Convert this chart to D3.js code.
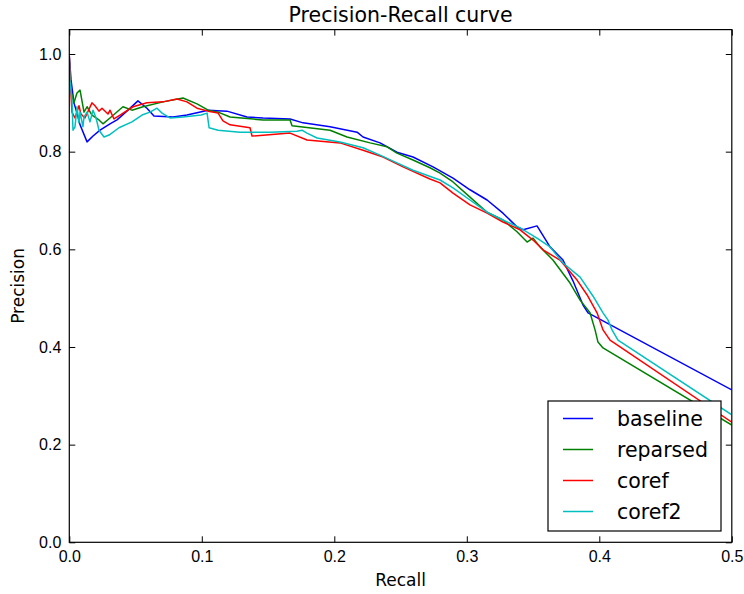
<!DOCTYPE html>
<html lang="en">
<head>
<meta charset="utf-8">
<title>Precision-Recall curve</title>
<script src="https://cdnjs.cloudflare.com/ajax/libs/d3/7.8.5/d3.min.js"></script>
<style>
	body { margin: 0; background: #fff; }
	svg { font-family: "DejaVu Sans", sans-serif; }
	.tick line { stroke: #000; }
	.tick text { fill: #000; font-size: 16px; }
	.curve { fill: none; stroke-width: 1.5; stroke-linejoin: round; }
</style>
</head>
<body>
<div id="viz"></div>
<script>

// [recall, precision] pairs
var baseline = [[0,0.996],[0.0013,0.947],[0.0035,0.900],[0.0058,0.879],[0.0081,0.855],[0.0134,0.820],[0.0179,0.832],[0.0232,0.844],[0.0307,0.857],[0.036,0.865],[0.0443,0.885],[0.0518,0.904],[0.0586,0.889],[0.0639,0.873],[0.0783,0.871],[0.0888,0.875],[0.1048,0.885],[0.119,0.883],[0.1341,0.871],[0.1462,0.869],[0.1666,0.867],[0.1764,0.859],[0.1968,0.851],[0.2172,0.840],[0.2217,0.830],[0.2345,0.818],[0.2473,0.799],[0.2594,0.789],[0.2745,0.769],[0.2896,0.746],[0.3024,0.722],[0.3153,0.701],[0.3273,0.674],[0.3379,0.646],[0.3425,0.640],[0.353,0.648],[0.3628,0.605],[0.3726,0.578],[0.3802,0.535],[0.3877,0.486],[0.3915,0.470],[0.5,0.312]];

var reparsed = [[0,0.992],[0.0005,0.932],[0.002,0.916],[0.0035,0.900],[0.0058,0.920],[0.0081,0.926],[0.0111,0.881],[0.0134,0.892],[0.0171,0.875],[0.0224,0.865],[0.0254,0.857],[0.0307,0.869],[0.0405,0.892],[0.0473,0.885],[0.0556,0.892],[0.0707,0.902],[0.0858,0.910],[0.0964,0.898],[0.1048,0.885],[0.1123,0.881],[0.1213,0.871],[0.1462,0.865],[0.1666,0.865],[0.1681,0.853],[0.1968,0.844],[0.2096,0.830],[0.227,0.818],[0.2398,0.810],[0.2473,0.797],[0.2594,0.783],[0.2722,0.767],[0.2798,0.756],[0.2896,0.738],[0.3024,0.707],[0.3153,0.676],[0.3273,0.660],[0.3379,0.636],[0.3455,0.615],[0.35,0.623],[0.3553,0.605],[0.365,0.578],[0.3779,0.531],[0.3855,0.496],[0.393,0.470],[0.3968,0.435],[0.399,0.410],[0.4028,0.398],[0.5,0.240]];

var coref = [[0,0.996],[0.0013,0.916],[0.002,0.881],[0.0043,0.869],[0.0073,0.894],[0.0088,0.877],[0.0118,0.869],[0.0171,0.900],[0.0194,0.894],[0.0224,0.883],[0.0247,0.889],[0.0292,0.877],[0.0307,0.885],[0.0337,0.867],[0.0383,0.875],[0.0481,0.892],[0.0586,0.900],[0.0707,0.902],[0.0813,0.908],[0.0888,0.902],[0.0964,0.889],[0.1048,0.883],[0.1123,0.879],[0.116,0.863],[0.1213,0.855],[0.1364,0.849],[0.1379,0.832],[0.1666,0.838],[0.1794,0.824],[0.2043,0.818],[0.2217,0.803],[0.2368,0.789],[0.2519,0.769],[0.2722,0.744],[0.2798,0.736],[0.2896,0.715],[0.3024,0.691],[0.3153,0.674],[0.3273,0.656],[0.3402,0.640],[0.35,0.619],[0.3575,0.599],[0.3703,0.578],[0.3832,0.537],[0.3907,0.507],[0.3983,0.470],[0.4028,0.435],[0.4081,0.414],[0.5,0.246]];

var coref2 = [[0,0.992],[0.0005,0.947],[0.002,0.906],[0.0028,0.844],[0.0043,0.851],[0.0058,0.892],[0.0073,0.859],[0.0081,0.881],[0.0103,0.851],[0.0111,0.871],[0.0134,0.881],[0.0156,0.861],[0.0179,0.885],[0.0202,0.869],[0.0224,0.844],[0.0262,0.830],[0.03,0.834],[0.0375,0.849],[0.0473,0.861],[0.0549,0.875],[0.0609,0.881],[0.0662,0.889],[0.07,0.879],[0.076,0.869],[0.0858,0.871],[0.0995,0.875],[0.104,0.879],[0.1055,0.849],[0.1123,0.844],[0.1288,0.840],[0.1515,0.840],[0.1718,0.842],[0.1756,0.844],[0.1794,0.838],[0.187,0.828],[0.2043,0.820],[0.2217,0.808],[0.2345,0.793],[0.2473,0.777],[0.2594,0.762],[0.2798,0.742],[0.2896,0.726],[0.3024,0.701],[0.3153,0.676],[0.3273,0.660],[0.3402,0.644],[0.353,0.623],[0.3628,0.605],[0.3726,0.572],[0.3855,0.543],[0.3953,0.504],[0.4028,0.470],[0.4066,0.455],[0.4096,0.435],[0.4141,0.414],[0.5,0.261]];

var seriesNames = ["baseline", "reparsed", "coref", "coref2"];
var seriesColors = ["#0000ff", "#008000", "#ff0000", "#00bfbf"];
var xTicks = [0, 0.1, 0.2, 0.3, 0.4, 0.5];
var yTicks = [0, 0.2, 0.4, 0.6, 0.8, 1.0];

(function(d3) {

	var w = 744,
		h = 594;
	var margin = {top: 29.6, right: 12.2, bottom: 51.7, left: 69.3};
	var width = w - margin.left - margin.right,
		height = h - margin.top - margin.bottom;

	var xScale = d3.scaleLinear().domain([0, 0.5]).range([0, width]);
	var yScale = d3.scaleLinear().domain([0, 1.05]).range([height, 0]);

	var svg = d3.select("#viz")
		.append("svg")
		.attr("width", w)
		.attr("height", h);

	var g = svg.append("g")
		.attr("transform", "translate(" + margin.left + "," + margin.top + ")");

	svg.append("defs").append("clipPath")
		.attr("id", "plotClip")
		.append("rect")
		.attr("width", width)
		.attr("height", height);

	var fmt = d3.format(".1f");

	// ticks point inwards on all four sides, labels only bottom and left
	g.append("g")
		.attr("transform", "translate(0," + height + ")")
		.call(d3.axisBottom(xScale).tickValues(xTicks).tickFormat(fmt).tickSize(-6).tickPadding(8))
		.call(a => a.select(".domain").remove());
	g.append("g")
		.call(d3.axisTop(xScale).tickValues(xTicks).tickFormat("").tickSize(-6))
		.call(a => a.select(".domain").remove());
	g.append("g")
		.call(d3.axisLeft(yScale).tickValues(yTicks).tickFormat(fmt).tickSize(-6).tickPadding(8))
		.call(a => a.select(".domain").remove());
	g.append("g")
		.attr("transform", "translate(" + width + ",0)")
		.call(d3.axisRight(yScale).tickValues(yTicks).tickFormat("").tickSize(-6))
		.call(a => a.select(".domain").remove());

	var line = d3.line()
		.x(d => xScale(d[0]))
		.y(d => yScale(d[1]));

	g.append("g")
		.attr("clip-path", "url(#plotClip)")
		.selectAll("path.curve")
		.data([baseline, reparsed, coref, coref2])
		.enter()
		.append("path")
		.attr("class", "curve")
		.style("stroke", (d, i) => seriesColors[i])
		.attr("d", line);

	g.append("rect")
		.attr("width", width)
		.attr("height", height)
		.style("fill", "none")
		.style("stroke", "#000")
		.style("stroke-width", 1.2);

	// legend in the lower right corner
	var legend = g.append("g")
		.attr("transform", "translate(" + (548 - margin.left) + "," + (401 - margin.top) + ")");

	legend.append("rect")
		.attr("width", 173)
		.attr("height", 130)
		.style("fill", "#fff")
		.style("stroke", "#000")
		.style("stroke-width", 1.2);

	var rows = legend.selectAll("g.row")
		.data(seriesNames)
		.enter()
		.append("g")
		.attr("class", "row")
		.attr("transform", (d, i) => "translate(0," + (17.5 + i * 31) + ")");

	rows.append("line")
		.attr("x1", 15)
		.attr("x2", 45)
		.style("stroke", (d, i) => seriesColors[i])
		.style("stroke-width", 1.5);

	rows.append("text")
		.attr("x", 69)
		.attr("y", 7)
		.style("font-size", "20.5px")
		.text(d => d);

	// titles
	svg.append("text")
		.attr("x", margin.left + width / 2)
		.attr("y", 22)
		.attr("text-anchor", "middle")
		.style("font-size", "20.5px")
		.text("Precision-Recall curve");

	svg.append("text")
		.attr("x", margin.left + width / 2)
		.attr("y", 586)
		.attr("text-anchor", "middle")
		.style("font-size", "17px")
		.text("Recall");

	svg.append("text")
		.attr("transform", "translate(24," + (margin.top + height / 2) + ") rotate(-90)")
		.attr("text-anchor", "middle")
		.style("font-size", "17px")
		.text("Precision");

})(d3);

</script>
</body>
</html>
